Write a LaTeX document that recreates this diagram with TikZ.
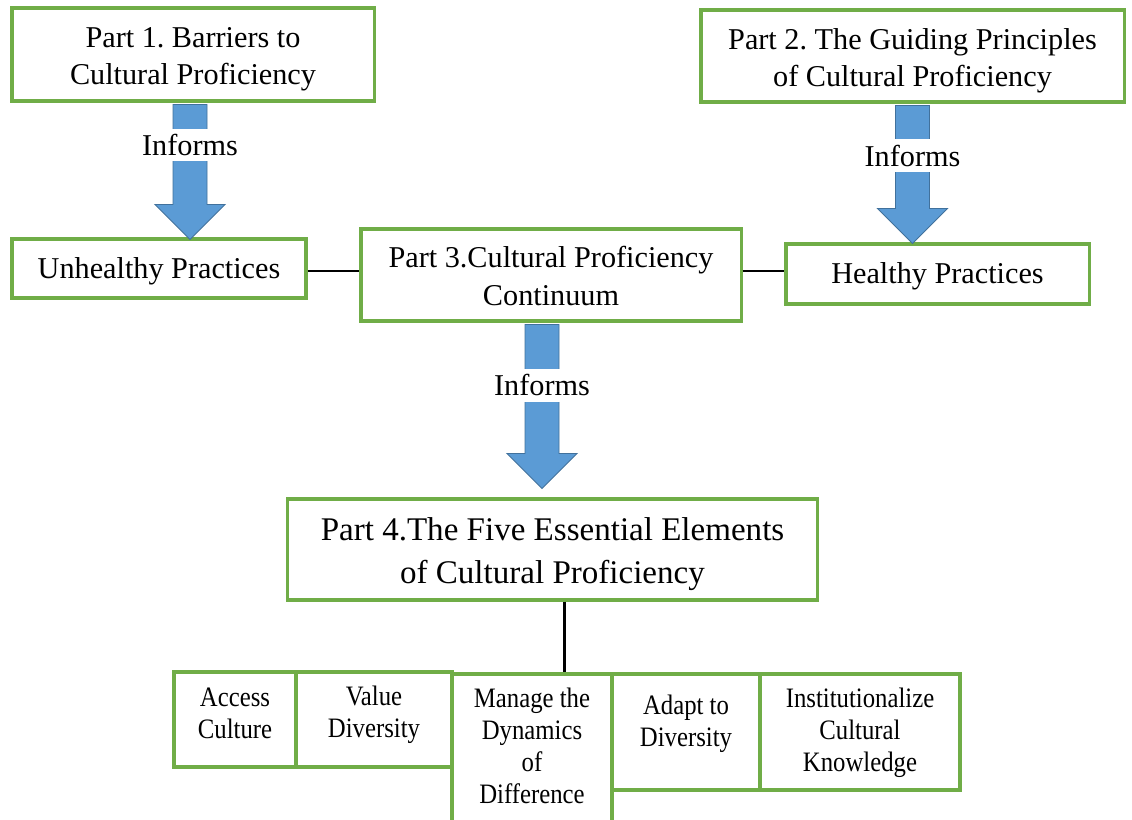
\documentclass[tikz,border=0pt]{standalone}
\usepackage{fontspec}
\setmainfont{Liberation Serif}
\newfontfamily\narrowserif[FakeStretch=0.88]{Liberation Serif}
\frenchspacing
\usetikzlibrary{calc}
\definecolor{boxgreen}{HTML}{70AD47}
\definecolor{arrowblue}{HTML}{5B9BD5}
\definecolor{arrowedge}{HTML}{41719C}

\begin{document}
\begin{tikzpicture}[x=0.025cm, y=-0.025cm]
\tikzset{partbox/.style={draw=boxgreen, line width=2.2pt, inner sep=0pt},
  parttext/.style={align=center, inner sep=0pt, font=\fontsize{21.5}{26.5}\selectfont},
  elemtext/.style={align=center, inner sep=0pt, font=\narrowserif\fontsize{20}{22.8}\selectfont},
  link/.style={draw=black, line width=1.8pt},
  bigarrow/.style={fill=arrowblue, draw=arrowedge, line width=0.6pt},
  informs/.style={fill=white, inner xsep=2pt, inner ysep=4pt, font=\fontsize{21.5}{26.5}\selectfont}}
\useasboundingbox (0,0) rectangle (1132,820);
% the four parts
\node[partbox, minimum width=9.05cm, minimum height=2.325cm] (P1) at (193,54.5) {};
\node[partbox, minimum width=10.575cm, minimum height=2.3cm] (P2) at (912.5,56) {};
\node[partbox, minimum width=7.35cm, minimum height=1.475cm] (Unh) at (159,268.5) {};
\node[partbox, minimum width=9.5cm, minimum height=2.3cm] (P3) at (551,275) {};
\node[partbox, minimum width=7.575cm, minimum height=1.5cm] (Hea) at (937.5,274) {};
\node[partbox, minimum width=13.225cm, minimum height=2.525cm] (P4) at (552.5,549.5) {};
\node[parttext] (P1-text) at ($(P1)+(0,5)$) {Part 1. Barriers to\\Cultural Proficiency};
\node[parttext] (P2-text) at ($(P2)+(0,5)$) {Part 2. The Guiding Principles\\of Cultural Proficiency};
\node[parttext] (Unh-text) at ($(Unh)+(0,3)$) {Unhealthy Practices};
\node[parttext] (P3-text) at ($(P3)+(0,1)$) {Part 3.Cultural Proficiency\\Continuum};
\node[parttext] (Hea-text) at ($(Hea)+(0,2)$) {Healthy Practices};
\node[parttext, font=\fontsize{23.5}{30.5}\selectfont] (P4-text) at ($(P4)+(0,5)$) {Part 4.The Five Essential Elements\\of Cultural Proficiency};
% the five elements
\node[partbox, minimum width=3.05cm, minimum height=2.375cm] (Acc) at (235,719.5) {};
\node[partbox, minimum width=3.9cm, minimum height=2.375cm] (Val) at (374,719.5) {};
\node[partbox, minimum width=4cm, minimum height=3.8cm] (Man) at (532,750) {};
\node[partbox, minimum width=3.7cm, minimum height=2.9cm] (Ada) at (686,732) {};
\node[partbox, minimum width=5cm, minimum height=2.9cm] (Ins) at (860,732) {};
\node[elemtext] (Acc-text) at ($(Acc)+(0,-6)$) {Access\\Culture};
\node[elemtext] (Val-text) at ($(Val)+(0,-5)$) {Value\\Diversity};
\node[elemtext] (Man-text) at ($(Man)+(0,-4)$) {Manage the\\Dynamics\\of\\Difference};
\node[elemtext] (Ada-text) at ($(Ada)+(0,-8)$) {Adapt to\\Diversity};
\node[elemtext] (Ins-text) at ($(Ins)+(0,1)$) {Institutionalize\\Cultural\\Knowledge};
% plain links
\coordinate (Unhside) at ($(Unh.east)+(0,2.5)$);
\draw[link] (Unhside) -- (Unhside -| P3.west);
\draw[link] (P3.east |- Unhside) -- (Hea.west |- Unhside);
\coordinate (P4foot) at ($(P4.south)+(12,0)$);
\draw[link] (P4foot) -- (P4foot |- Man.north);
% informs arrows
\foreach \a/\b/\f/\d/\s in {P1/Unh/0.30/2/-3, P2/Hea/0.365/1/0, P3/P4/0.37/-9/-9} {
  \coordinate (top) at ($(\a.south)+(\s,2)$);
  \coordinate (tip) at ($(top |- \b.north)+(0,\d)$);
  \draw[bigarrow] ($(top)+(-17,0)$) -- ($(tip)+(-17,-35)$) -- ($(tip)+(-35,-35)$) -- (tip) -- ($(tip)+(35,-35)$) -- ($(tip)+(17,-35)$) -- ($(top)+(17,0)$) -- cycle;
  \node[informs] (\a-lbl) at ($(top)!\f!(tip)$) {Informs};
}
\end{tikzpicture}
\end{document}
